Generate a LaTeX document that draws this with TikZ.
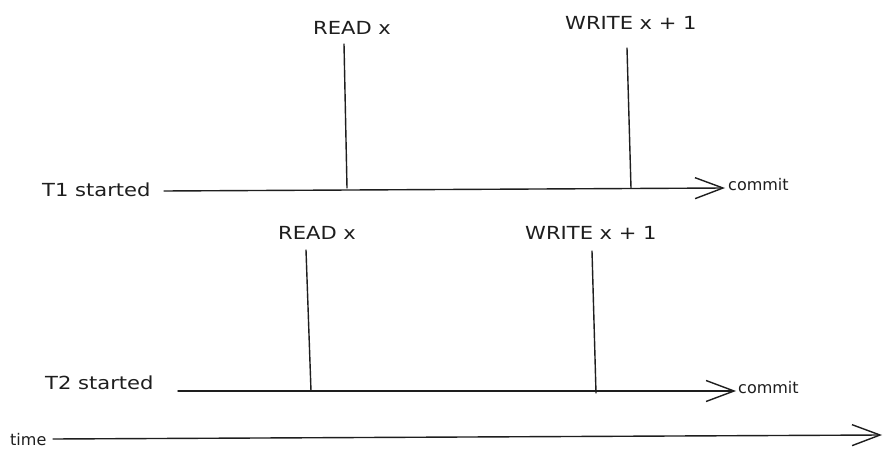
\documentclass[tikz,border=0pt]{standalone}
\usepackage{fontspec}
\newfontfamily\hand[FakeStretch=1.17]{DejaVu Sans}
\newfontfamily\handsmall{DejaVu Sans}
\usetikzlibrary{arrows.meta}
\definecolor{ink}{HTML}{1E1E1E}
\begin{document}
\begin{tikzpicture}[x=1pt,y=-1pt,
  lbl/.style={inner sep=0pt, anchor=base west, text=ink, font=\hand\fontsize{18}{22}\selectfont},
  small/.style={inner sep=0pt, anchor=base west, text=ink, font=\handsmall\fontsize{16}{19}\selectfont},
  tline/.style={draw=ink, line width=1.4pt, line cap=round,
    -{Straight Barb[length=28pt,width=21pt,line width=1.4pt]}},
  evline/.style={draw=ink, line width=1.4pt, line cap=round}]
\useasboundingbox[fill=white] (0,0) rectangle (892,462);

% labels
\node[lbl] (t1lbl) at (42,197) {T1 started};
\node[lbl] (t2lbl) at (45,390) {T2 started};
\node[lbl] (r1lbl) at (313,35) {READ x};
\node[lbl] (w1lbl) at (565,30) {WRITE x + 1};
\node[lbl] (r2lbl) at (278,240) {READ x};
\node[lbl] (w2lbl) at (525,240) {WRITE x + 1};
\node[small] (c1lbl) at (728,191) {commit};
\node[small] (c2lbl) at (738,393) {commit};
\node[small] (timelbl) at (10,446) {time};

% coordinates
\coordinate (t1s) at (164,191);
\coordinate (t1e) at (725,188);
\coordinate (t2s) at (178,391);
\coordinate (t2e) at (736,391);
\coordinate (tms) at (53,439);
\coordinate (tme) at (882,435);
\coordinate (r1top) at (344,44);
\coordinate (r1bot) at (347,188);
\coordinate (w1top) at (627,48);
\coordinate (w1bot) at (631,188);
\coordinate (r2top) at (306,250);
\coordinate (r2bot) at (311,391);
\coordinate (w2top) at (592,251);
\coordinate (w2bot) at (596,393);

% timelines
\draw[tline] (t1s) -- (t1e);
\draw[tline] (t2s) -- (t2e);
\draw[tline] (tms) -- (tme);

% events
\draw[evline] (r1top) -- (r1bot);
\draw[evline] (w1top) -- (w1bot);
\draw[evline] (r2top) -- (r2bot);
\draw[evline] (w2top) -- (w2bot);
\end{tikzpicture}
\end{document}
